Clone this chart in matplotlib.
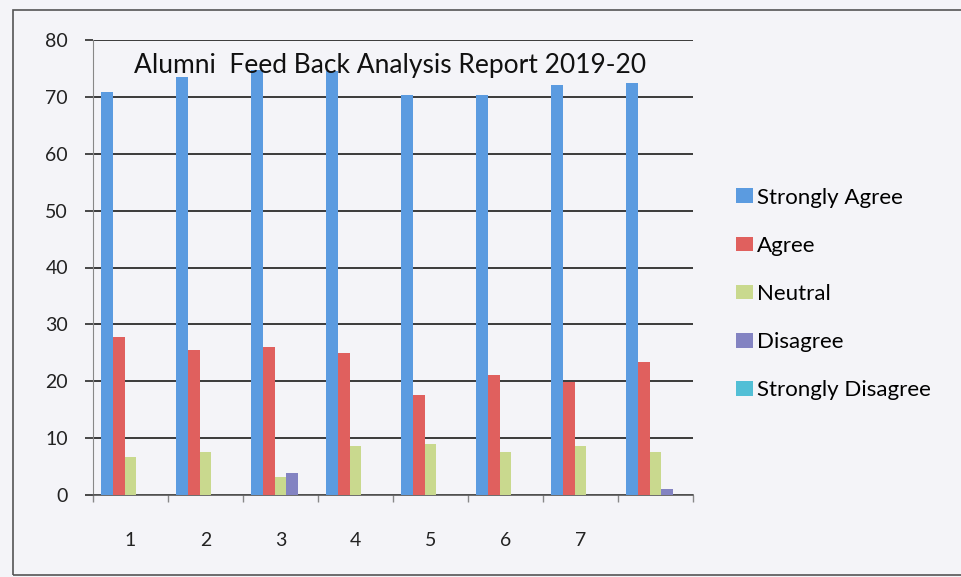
import matplotlib
matplotlib.use("Agg")
import matplotlib.pyplot as plt
import numpy as np
from matplotlib.patches import Rectangle

categories = ["1", "2", "3", "4", "5", "6", "7", ""]
series_names = ["Strongly Agree", "Agree", "Neutral", "Disagree", "Strongly Disagree"]
strongly_agree = [70.9, 73.5, 74.7, 74.5, 70.3, 70.3, 72.1, 72.4]
agree = [27.8, 25.5, 26.1, 25.0, 17.6, 21.1, 19.9, 23.4]
neutral = [6.6, 7.6, 3.2, 8.6, 8.9, 7.6, 8.6, 7.6]
disagree = [0, 0, 3.8, 0, 0, 0, 0, 1.0]
strongly_disagree = [0, 0, 0, 0, 0, 0, 0, 0]
y_ticks = [0, 10, 20, 30, 40, 50, 60, 70, 80]
title = "Alumni  Feed Back Analysis Report 2019-20"

colors = ["#5b9be0", "#e0605e", "#c9d98e", "#8383c2", "#52bfd6"]
bg = "#f4f4f8"

plt.rcParams['font.family'] = ['Lato', 'DejaVu Sans']

fig = plt.figure(figsize=(9.62, 5.77), dpi=100, facecolor=bg)
ax = fig.add_axes([93/962, 1-495/577, 600/962, 455/577])
ax.set_facecolor(bg)

data = [strongly_agree, agree, neutral, disagree, strongly_disagree]
x = np.arange(len(categories))
bw = 0.155
for j, (vals, c, name) in enumerate(zip(data, colors, series_names)):
    ax.bar(x + 0.5 + (j - 2) * bw, vals, width=bw, color=c, label=name, zorder=3)

ax.set_xlim(0, len(categories))
ax.set_ylim(0, 80)
ax.set_yticks(y_ticks)
ax.set_yticklabels([str(v) for v in y_ticks], fontsize=14, color="#222222")
ax.tick_params(axis='y', length=6, width=1.3, color="#3a3a3a", pad=12)
ax.grid(axis='y', color="#3a3a3a", linewidth=1.4, zorder=0)

ax.set_xticks(np.arange(len(categories) + 1))
ax.set_xticklabels([])
ax.set_xticks(x + 0.5, minor=True)
ax.set_xticklabels(categories, minor=True, fontsize=14, color="#222222")
ax.tick_params(axis='x', which='major', length=5, width=1, color="#888888")
ax.tick_params(axis='x', which='minor', length=0, pad=27)

for s in ['top', 'right']:
    ax.spines[s].set_visible(False)
ax.spines['left'].set_color("#888888")
ax.spines['left'].set_linewidth(0.8)
ax.spines['bottom'].set_color("#555555")
ax.spines['bottom'].set_linewidth(1.2)

ax.text((390-93)/600, (495-73)/455, title, transform=ax.transAxes, ha='center', va='baseline',
        fontsize=19, color="#111111", zorder=5)

fig.legend(loc='center left', bbox_to_anchor=(736/962, 1-294/577), frameon=False,
           fontsize=16, handlelength=0.77, handleheight=0.63, handletextpad=0.18,
           labelspacing=1.27, borderpad=0, borderaxespad=0)

fig.add_artist(Rectangle((13/962, 1-575/577), 1.2, (575-10)/577, transform=fig.transFigure,
                         fill=False, edgecolor="#555555", linewidth=1.2))

fig.savefig("out.png", dpi=100, facecolor=bg)
